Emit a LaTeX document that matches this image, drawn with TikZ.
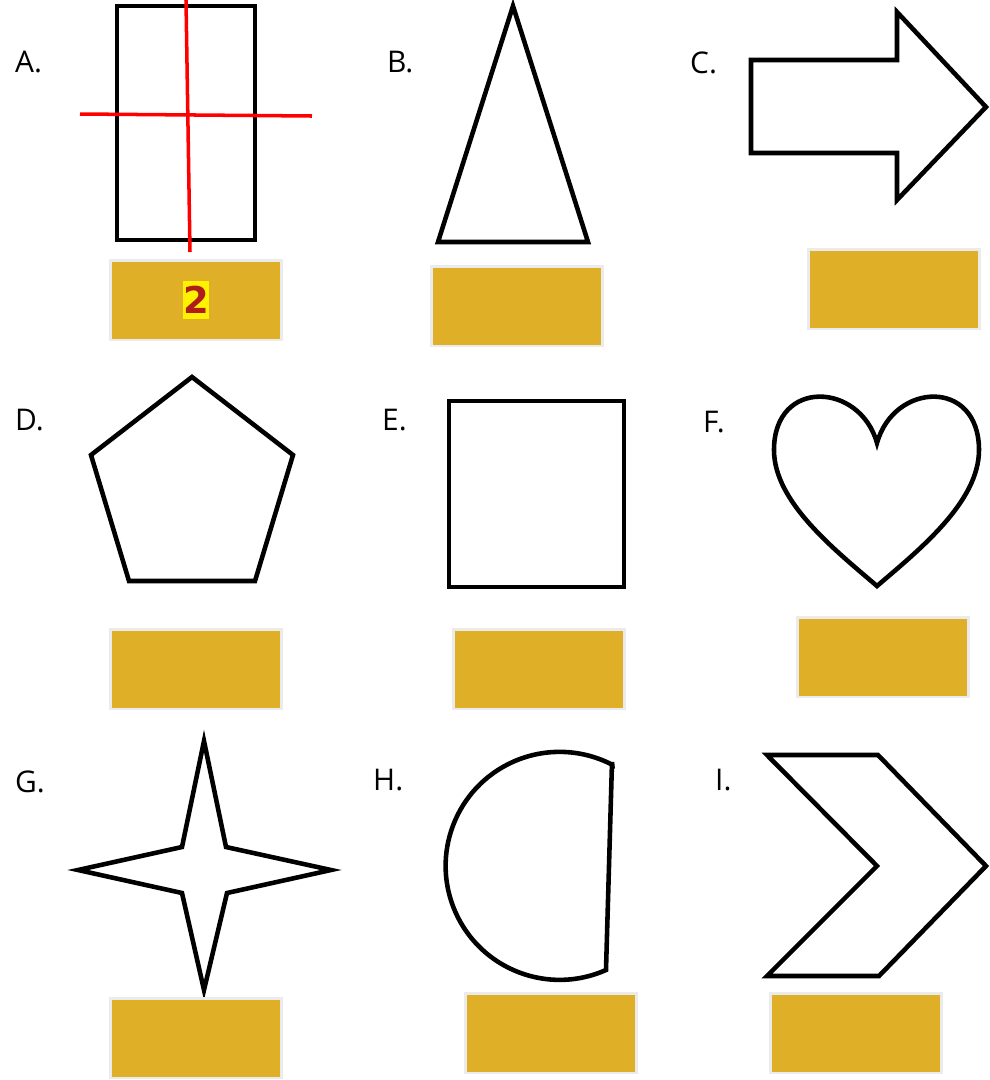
\documentclass[tikz,border=0pt]{standalone}
\usepackage{fontspec}
\setsansfont{Open Sans}
\newfontfamily\digitfont{DejaVu Sans}
\usepackage{xcolor}
\usepackage{tikz}

\definecolor{gold}{RGB}{223,175,39}
\definecolor{boxedge}{RGB}{235,235,235}
\definecolor{digitred}{RGB}{175,28,28}

\begin{document}
\begin{tikzpicture}[x=0.02cm, y=-0.02cm,
    outline/.style={draw=black, line width=2.6pt, line join=miter},
    answer/.style={draw=boxedge, fill=gold, line width=1.7pt, minimum width=3.44cm, minimum height=1.6cm, inner sep=0pt},
    tag/.style={anchor=west, font=\sffamily\fontsize{17}{19}\selectfont},
    cut/.style={red, line width=2pt}]
    \useasboundingbox[fill=white] (0,0) rectangle (990,1080);
    % letters
    \node[tag] (la) at (9,62) {A.};
    \node[tag] (lb) at (381,62) {B.};
    \node[tag] (lc) at (684,63) {C.};
    \node[tag] (ld) at (9,420) {D.};
    \node[tag] (le) at (376,420) {E.};
    \node[tag] (lf) at (697,422) {F.};
    \node[tag] (lg) at (9,782) {G.};
    \node[tag] (lh) at (367,780) {H.};
    \node[tag] (li) at (709,780) {I.};
    % shapes
    \draw[outline] (117,6) rectangle (255,240);
    \draw[outline] (513,6) -- (588,242) -- (438,242) -- cycle;
    \draw[outline] (751,60) -- (897,60) -- (897,12) -- (986,107) -- (897,200) -- (897,153) -- (751,153) -- cycle;
    \draw[outline] (192,377) -- (293,455) -- (255,581) -- (129,581) -- (91,455) -- cycle;
    \draw[outline] (449,401) rectangle (624,587);
    \draw[outline] (877,443) .. controls (860,382) and (774,378) .. (774,450)
                   .. controls (774,502) and (835,550) .. (877,586)
                   .. controls (919,550) and (979,502) .. (979,450)
                   .. controls (979,378) and (894,382) .. (877,443) -- cycle;
    \draw[outline] (204,741) -- (226,847) -- (331,870) -- (227,893) -- (204,990)
                   -- (182,893) -- (78,870) -- (182,847) -- cycle;
    \draw[outline] (612,762) -- (606,970) arc[start angle=66, end angle=297.5, radius=114] -- cycle;
    \draw[outline] (767,755) -- (878,755) -- (986,866) -- (879,976) -- (767,976) -- (877,866) -- cycle;
    % red cuts on A
    \draw[cut] (80,114) -- (312,116);
    \draw[cut] (186,0) -- (190,252);
    % answer boxes
    \node[answer] (ansa) at (196,300) {};
    \node[answer] (ansb) at (517,306) {};
    \node[answer] (ansc) at (894,289) {};
    \node[answer] (ansd) at (196,669) {};
    \node[answer] (anse) at (539,669) {};
    \node[answer] (ansf) at (883,657) {};
    \node[answer] (ansg) at (196,1038) {};
    \node[answer] (ansh) at (551,1033) {};
    \node[answer] (ansi) at (856,1033) {};
    \node[fill=yellow, text=digitred, inner xsep=0pt, inner ysep=3pt, font=\digitfont\bfseries\fontsize{21}{23}\selectfont] (num) at (ansa) {2};
\end{tikzpicture}
\end{document}
